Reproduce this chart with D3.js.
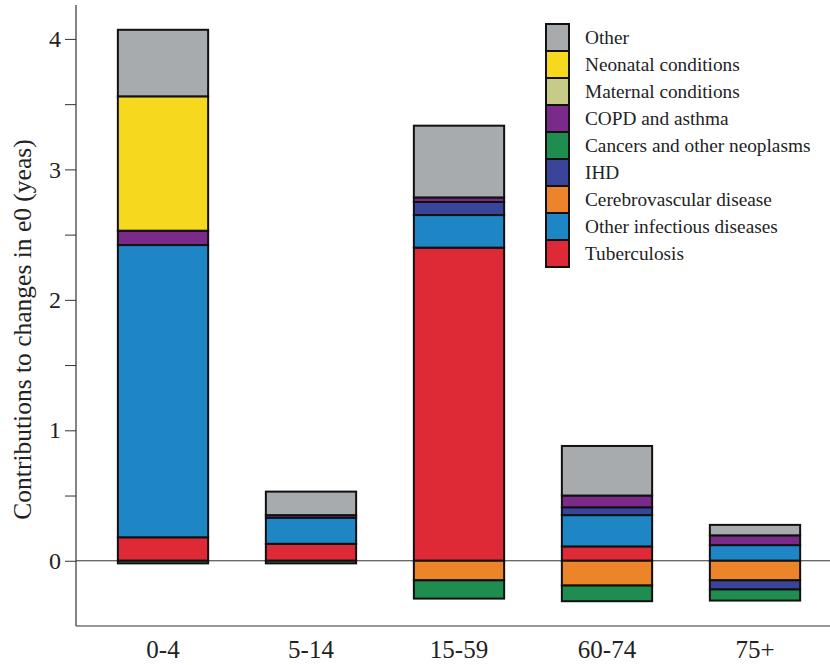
<!DOCTYPE html>
<html>
<head>
<meta charset="utf-8">
<script src="https://cdn.jsdelivr.net/npm/d3@7"></script>
<style>
  html, body { margin: 0; padding: 0; background: #fff; }
  svg { display: block; }
  text { font-family: "Liberation Serif", "Times New Roman", serif; fill: #222; }
</style>
</head>
<body>
<svg id="chart" width="830" height="665"></svg>
<script>
// ---- data ----
const categories = ["0-4", "5-14", "15-59", "60-74", "75+"];
const seriesNames = ["Tuberculosis", "Other infectious diseases", "Cerebrovascular disease", "IHD",
  "Cancers and other neoplasms", "COPD and asthma", "Maternal conditions", "Neonatal conditions", "Other"];
const tuberculosis   = [0.18, 0.13, 2.40, 0.11, 0.00];
const otherInfectious = [2.24, 0.20, 0.25, 0.24, 0.12];
const cerebrovascular = [0.00, 0.00, -0.15, -0.19, -0.15];
const ihd            = [0.00, 0.00, 0.10, 0.06, -0.07];
const cancers        = [-0.02, -0.02, -0.14, -0.12, -0.085];
const copd           = [0.11, 0.02, 0.035, 0.09, 0.075];
const maternal       = [0.00, 0.00, 0.00, 0.00, 0.00];
const neonatal       = [1.03, 0.00, 0.00, 0.00, 0.00];
const other          = [0.51, 0.18, 0.55, 0.38, 0.08];
const seriesValues = [tuberculosis, otherInfectious, cerebrovascular, ihd, cancers, copd, maternal, neonatal, other];
const colors = ["#de2a37", "#1f86c6", "#ec8429", "#3a4599", "#1f8c50", "#7a2a88", "#c6cc88", "#f6d91e", "#a8abae"];
const yTicks = [0, 1, 2, 3, 4];
const yMinorTicks = [0.5, 1.5, 2.5, 3.5];
const yTitle = "Contributions to changes in e0 (yeas)";

// ---- build table ----
const table = categories.map((c, i) => {
  const row = { cat: c };
  seriesNames.forEach((s, j) => row[s] = seriesValues[j][i]);
  return row;
});
const stacked = d3.stack().keys(seriesNames).offset(d3.stackOffsetDiverging)(table);

const svg = d3.select("#chart");
const x = d3.scaleBand().domain(categories).range([89, 829]).paddingInner(0.39).paddingOuter(0.195);
const y = d3.scaleLinear().domain([-0.5, 4.26]).range([626, 5]);
const color = d3.scaleOrdinal().domain(seriesNames).range(colors);
const serif = "Liberation Serif, Times New Roman, serif";

// zero line
svg.append("line")
  .attr("x1", 76).attr("x2", 830)
  .attr("y1", y(0)).attr("y2", y(0))
  .attr("stroke", "#333").attr("stroke-width", 1);

// bars
svg.append("g").selectAll("g").data(stacked).join("g")
  .attr("fill", d => color(d.key))
  .selectAll("rect").data(d => d.filter(p => p[1] !== p[0])).join("rect")
  .attr("x", d => x(d.data.cat))
  .attr("width", x.bandwidth())
  .attr("y", d => y(Math.max(d[0], d[1])))
  .attr("height", d => Math.abs(y(d[0]) - y(d[1])))
  .attr("stroke", "#111").attr("stroke-width", 2);

// y axis
const yAxis = d3.axisLeft(y).tickValues(yTicks).tickFormat(d3.format("d")).tickSize(11).tickPadding(4);
const gy = svg.append("g").attr("transform", "translate(76,0)").call(yAxis);
gy.select(".domain").remove();
gy.selectAll(".tick line").attr("stroke", "#333");
gy.selectAll(".tick text").style("font-family", serif).style("font-size", "24px").attr("fill", "#222");
const yMinor = d3.axisLeft(y).tickValues(yMinorTicks).tickFormat("").tickSize(11);
const gym = svg.append("g").attr("transform", "translate(76,0)").call(yMinor);
gym.select(".domain").remove();
gym.selectAll(".tick line").attr("stroke", "#333");
svg.append("line").attr("x1", 76).attr("x2", 76).attr("y1", y.range()[1]).attr("y2", y.range()[0])
  .attr("stroke", "#333").attr("stroke-width", 1.2);

// x axis
const xAxis = d3.axisBottom(x).tickSize(0).tickPadding(14);
const gx = svg.append("g").attr("transform", `translate(0,${y(-0.5)})`).call(xAxis);
gx.select(".domain").remove();
gx.selectAll(".tick text").style("font-family", serif).style("font-size", "25px").attr("fill", "#222");
svg.append("line").attr("x1", 76).attr("x2", 830).attr("y1", y(-0.5)).attr("y2", y(-0.5))
  .attr("stroke", "#333").attr("stroke-width", 1.2);

// y title
svg.append("text")
  .attr("transform", `translate(31,${(y(4.26) + y(-0.5)) / 2 + 14}) rotate(-90)`)
  .attr("text-anchor", "middle")
  .style("font-family", serif)
  .style("font-size", "25.5px")
  .text(yTitle);

// legend
const legendOrder = seriesNames.slice().reverse();
const lg = svg.append("g").attr("transform", "translate(546,24)");
const rowH = 27;
lg.selectAll("rect").data(legendOrder).join("rect")
  .attr("x", 0).attr("y", (d, i) => i * rowH)
  .attr("width", 23).attr("height", rowH)
  .attr("fill", d => color(d))
  .attr("stroke", "#111").attr("stroke-width", 2);
lg.selectAll("text").data(legendOrder).join("text")
  .attr("x", 39).attr("y", (d, i) => i * rowH + rowH / 2 + 6)
  .style("font-family", serif)
  .style("font-size", "19.3px")
  .text(d => d);
</script>
</body>
</html>
